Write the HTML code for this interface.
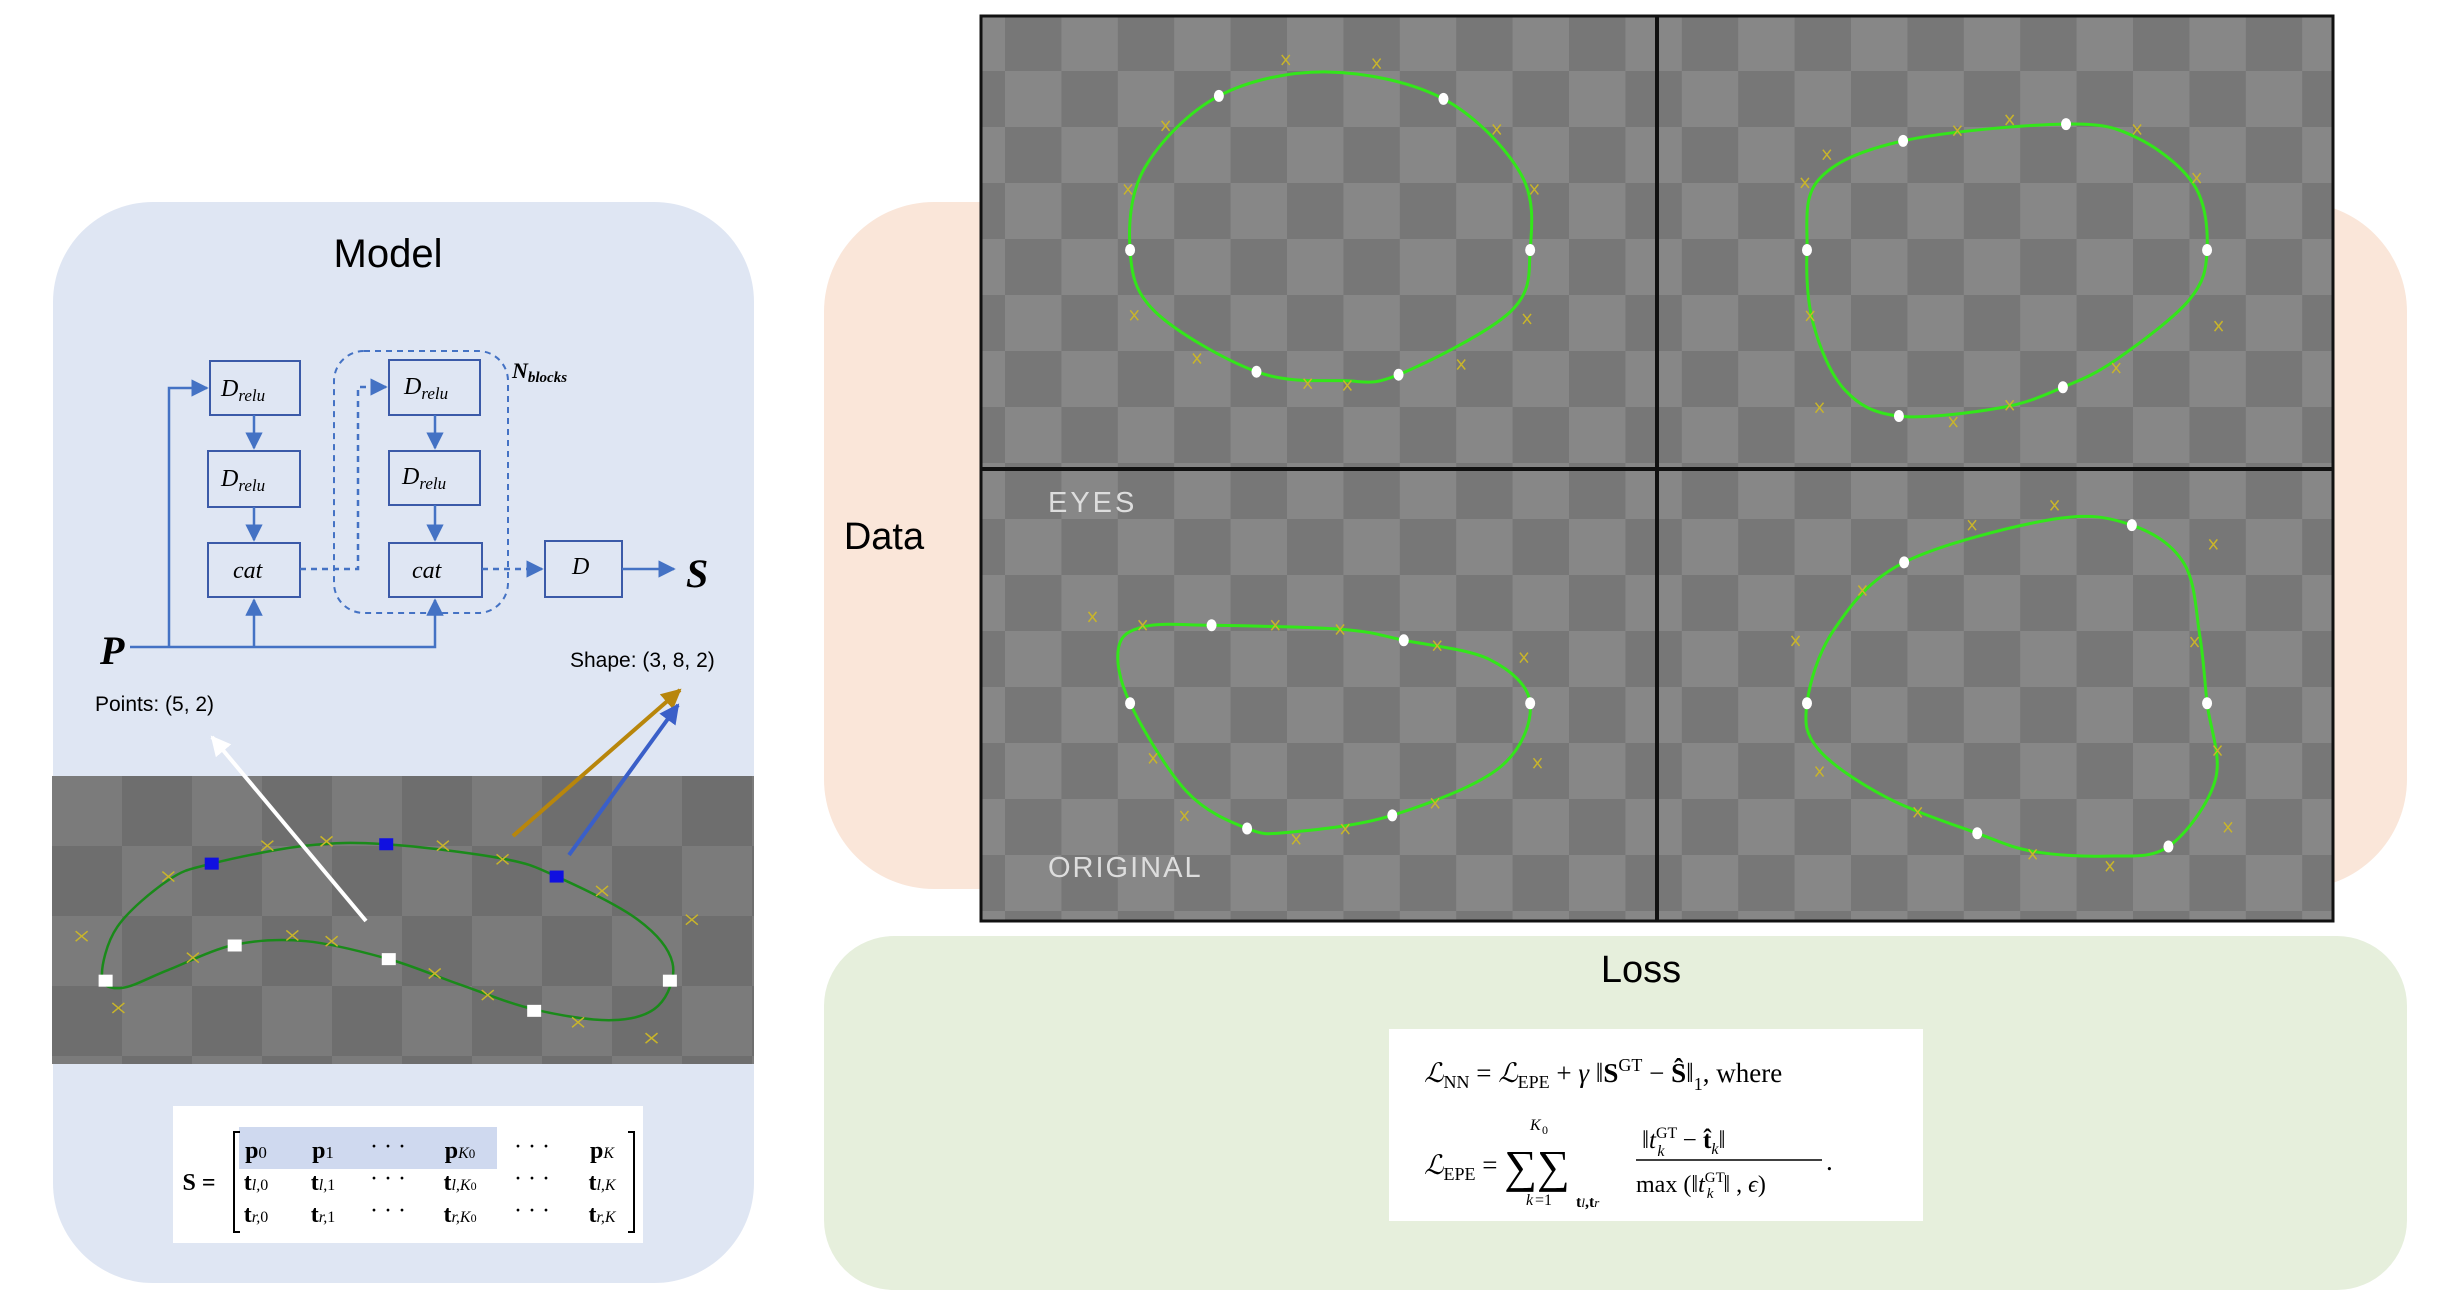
<!DOCTYPE html>
<html><head><meta charset="utf-8"><style>
html,body{margin:0;padding:0;background:#fff;}
svg{display:block;font-family:"Liberation Sans",sans-serif;}
</style></head><body>
<svg id="s" width="2438" height="1306" viewBox="0 0 2438 1306" xmlns="http://www.w3.org/2000/svg">
<defs>
<pattern id="chk" patternUnits="userSpaceOnUse" x="1005" y="71" width="112.8" height="112">
<rect width="112.8" height="112" fill="#777"/>
<rect width="56.4" height="56" fill="#878787"/>
<rect x="56.4" y="56" width="56.4" height="56" fill="#878787"/>
</pattern>
<pattern id="chk2" patternUnits="userSpaceOnUse" x="122" y="846" width="140" height="140">
<rect width="140" height="140" fill="#6e6e6e"/>
<rect width="70" height="70" fill="#7b7b7b"/>
<rect x="70" y="70" width="70" height="70" fill="#7b7b7b"/>
</pattern>
<marker id="ab" viewBox="0 0 10 10" refX="9" refY="5" markerWidth="7" markerHeight="7" orient="auto-start-reverse"><path d="M0,0L10,5L0,10z" fill="#4472c4"/></marker>
<marker id="aw" viewBox="0 0 10 10" refX="9" refY="5" markerWidth="5" markerHeight="5" orient="auto"><path d="M0,0L10,5L0,10z" fill="#fff"/></marker>
<marker id="ag" viewBox="0 0 10 10" refX="9" refY="5" markerWidth="5" markerHeight="5" orient="auto"><path d="M0,0L10,5L0,10z" fill="#b8860b"/></marker>
<marker id="abl" viewBox="0 0 10 10" refX="9" refY="5" markerWidth="5" markerHeight="5" orient="auto"><path d="M0,0L10,5L0,10z" fill="#3a5fc8"/></marker>
</defs>

<rect x="53" y="202" width="701" height="1081" rx="100" fill="#dfe6f3"/>
<rect x="824" y="202" width="1583" height="687" rx="110" fill="#fae6d9"/>
<rect x="824" y="936" width="1583" height="354" rx="70" fill="#e6efdc"/>

<text x="388" y="267" font-size="40" text-anchor="middle" fill="#000">Model</text>
<text x="884" y="549" font-size="38" text-anchor="middle" fill="#000">Data</text>
<text x="1641" y="982" font-size="38" text-anchor="middle" fill="#000">Loss</text>

<rect x="981" y="16" width="1352" height="905" fill="url(#chk)" stroke="#111" stroke-width="3"/>
<line x1="1657" y1="16" x2="1657" y2="921" stroke="#111" stroke-width="4"/>
<line x1="981" y1="469" x2="2333" y2="469" stroke="#111" stroke-width="4"/>
<text x="1048" y="512" font-size="29" fill="#ddd" letter-spacing="3">EYES</text>
<text x="1048" y="877" font-size="29" fill="#ddd" letter-spacing="2">ORIGINAL</text>
<g id="dataMarks"></g>

<rect x="52" y="776" width="702" height="288" fill="url(#chk2)"/>
<g id="modelMarks"></g>

<g stroke="#3b5aa8" stroke-width="2" fill="none">
<rect x="210" y="361" width="90" height="54"/>
<rect x="208" y="451" width="92" height="56"/>
<rect x="208" y="543" width="92" height="54"/>
<rect x="389" y="360" width="91" height="55"/>
<rect x="389" y="451" width="91" height="54"/>
<rect x="389" y="543" width="93" height="54"/>
<rect x="545" y="541" width="77" height="56"/>
<rect x="334" y="351" width="174" height="262" rx="30" stroke="#4472c4" stroke-dasharray="6,5"/>
</g>
<g stroke="#4472c4" stroke-width="2.5" fill="none">
<polyline points="130,647 435,647 435,600" marker-end="url(#ab)"/>
<polyline points="254,647 254,600" marker-end="url(#ab)"/>
<polyline points="169,647 169,388 207,388" marker-end="url(#ab)"/>
<line x1="254" y1="415" x2="254" y2="448" marker-end="url(#ab)"/>
<line x1="254" y1="507" x2="254" y2="540" marker-end="url(#ab)"/>
<line x1="435" y1="415" x2="435" y2="448" marker-end="url(#ab)"/>
<line x1="435" y1="505" x2="435" y2="540" marker-end="url(#ab)"/>
<polyline points="300,569 358,569 358,387 386,387" stroke-dasharray="6,5" marker-end="url(#ab)"/>
<line x1="482" y1="569" x2="542" y2="569" stroke-dasharray="6,5" marker-end="url(#ab)"/>
<line x1="622" y1="569" x2="674" y2="569" marker-end="url(#ab)"/>
</g>
<g font-family="Liberation Serif,serif" font-style="italic" fill="#000">
<text x="221" y="396" font-size="24">D<tspan font-size="17" dy="5">relu</tspan></text>
<text x="221" y="486" font-size="24">D<tspan font-size="17" dy="5">relu</tspan></text>
<text x="233" y="578" font-size="24">cat</text>
<text x="404" y="394" font-size="24">D<tspan font-size="17" dy="5">relu</tspan></text>
<text x="402" y="484" font-size="24">D<tspan font-size="17" dy="5">relu</tspan></text>
<text x="412" y="578" font-size="24">cat</text>
<text x="572" y="574" font-size="24">D</text>
<text x="686" y="587" font-size="40" font-weight="bold">S</text>
<text x="100" y="664" font-size="40" font-weight="bold">P</text>
<text x="512" y="378" font-size="22" font-weight="bold">N<tspan font-size="15" dy="4">blocks</tspan></text>
</g>
<text x="570" y="667" font-size="21" fill="#000">Shape: (3, 8, 2)</text>
<text x="95" y="711" font-size="21" fill="#000">Points: (5, 2)</text>
<line x1="366" y1="921" x2="212" y2="737" stroke="#fff" stroke-width="4" marker-end="url(#aw)"/>
<line x1="513" y1="836" x2="680" y2="690" stroke="#b8860b" stroke-width="4" marker-end="url(#ag)"/>
<line x1="569" y1="855" x2="678" y2="705" stroke="#3a5fc8" stroke-width="4" marker-end="url(#abl)"/>

<rect x="173" y="1106" width="470" height="137" fill="#fff"/>
<rect x="239" y="1127" width="258" height="42" fill="#cfd9ef"/>
<g font-family="Liberation Serif,serif" font-size="24" fill="#000" text-anchor="middle">
<text x="199" y="1190" font-weight="bold">S =</text>
<path d="M240,1132 h-6 v100 h6 M628,1132 h6 v100 h-6" stroke="#000" stroke-width="2" fill="none"/>
<text x="256" y="1158" font-weight="bold">p<tspan font-size="17" font-weight="normal">0</tspan></text>
<text x="323" y="1158" font-weight="bold">p<tspan font-size="17" font-weight="normal">1</tspan></text>
<text x="388" y="1154">· · ·</text>
<text x="460" y="1158" font-weight="bold">p<tspan font-size="16" font-style="italic" font-weight="normal">K</tspan><tspan font-size="13" font-weight="normal">0</tspan></text>
<text x="532" y="1154">· · ·</text>
<text x="602" y="1158" font-weight="bold">p<tspan font-size="16" font-style="italic" font-weight="normal">K</tspan></text>
<text x="256" y="1190" font-weight="bold">t<tspan font-size="16" font-style="italic" font-weight="normal">l,</tspan><tspan font-size="16" font-weight="normal">0</tspan></text>
<text x="323" y="1190" font-weight="bold">t<tspan font-size="16" font-style="italic" font-weight="normal">l,</tspan><tspan font-size="16" font-weight="normal">1</tspan></text>
<text x="388" y="1186">· · ·</text>
<text x="460" y="1190" font-weight="bold">t<tspan font-size="16" font-style="italic" font-weight="normal">l,K</tspan><tspan font-size="12" font-weight="normal">0</tspan></text>
<text x="532" y="1186">· · ·</text>
<text x="602" y="1190" font-weight="bold">t<tspan font-size="16" font-style="italic" font-weight="normal">l,K</tspan></text>
<text x="256" y="1222" font-weight="bold">t<tspan font-size="16" font-style="italic" font-weight="normal">r,</tspan><tspan font-size="16" font-weight="normal">0</tspan></text>
<text x="323" y="1222" font-weight="bold">t<tspan font-size="16" font-style="italic" font-weight="normal">r,</tspan><tspan font-size="16" font-weight="normal">1</tspan></text>
<text x="388" y="1218">· · ·</text>
<text x="460" y="1222" font-weight="bold">t<tspan font-size="16" font-style="italic" font-weight="normal">r,K</tspan><tspan font-size="12" font-weight="normal">0</tspan></text>
<text x="532" y="1218">· · ·</text>
<text x="602" y="1222" font-weight="bold">t<tspan font-size="16" font-style="italic" font-weight="normal">r,K</tspan></text>
</g>

<rect x="1389" y="1029" width="534" height="192" fill="#fff"/>
<g font-family="Liberation Serif,serif" font-size="27" fill="#000">
<text x="1424" y="1082"><tspan font-style="italic">ℒ</tspan><tspan font-size="18" dy="6">NN</tspan><tspan dy="-6"> = </tspan><tspan font-style="italic">ℒ</tspan><tspan font-size="18" dy="6">EPE</tspan><tspan dy="-6"> + </tspan><tspan font-style="italic">γ</tspan> ‖<tspan font-weight="bold">S</tspan><tspan font-size="18" dy="-11">GT</tspan><tspan dy="11"> − </tspan><tspan font-weight="bold">Ŝ</tspan>‖<tspan font-size="18" dy="8">1</tspan><tspan dy="-8">,  where</tspan></text>
<text x="1424" y="1174"><tspan font-style="italic">ℒ</tspan><tspan font-size="18" dy="6">EPE</tspan><tspan dy="-6"> = </tspan><tspan font-size="46" dy="8">∑</tspan><tspan font-size="46">∑</tspan></text>
<text x="1526" y="1205" font-size="16" font-style="italic">k</text><text x="1535" y="1205" font-size="16">=1</text>
<text x="1530" y="1130" font-size="16" font-style="italic">K</text><text x="1542" y="1134" font-size="12">0</text>
<text x="1576" y="1207" font-size="16" font-weight="bold">t<tspan font-style="italic" font-weight="normal" font-size="13">l</tspan>,t<tspan font-style="italic" font-weight="normal" font-size="13">r</tspan></text>
<text x="1642" y="1148" font-size="25">‖<tspan font-style="italic">t</tspan><tspan font-size="16" dy="-10">GT</tspan><tspan font-size="16" font-style="italic" dx="-20" dy="18">k</tspan><tspan dx="12" dy="-8"> − </tspan><tspan font-weight="bold">t̂</tspan><tspan font-size="16" font-style="italic" dy="6">k</tspan><tspan dy="-6">‖</tspan></text>
<line x1="1636" y1="1160" x2="1822" y2="1160" stroke="#000" stroke-width="1.5"/>
<text x="1636" y="1192" font-size="24">max (‖<tspan font-style="italic">t</tspan><tspan font-size="15" dy="-10">GT</tspan><tspan font-size="15" font-style="italic" dx="-18" dy="16">k</tspan><tspan dx="10" dy="-6">‖ , </tspan><tspan font-style="italic">ϵ</tspan>)</text>
<text x="1826" y="1170">.</text>
</g>
</svg>
<script>
const curveTL=[[316,417],[330,280],[401,160],[505,120],[616,165],[690,290],[699,417],[680,520],[573,625],[520,635],[437,620],[340,520]];
const dotsTL=[[316,417],[401,160],[616,165],[699,417],[573,625],[437,620]];
const crossTL=[[465,100],[552,106],[350,210],[667,216],[314,316],[703,316],[320,526],[696,532],[380,598],[633,608],[486,640],[524,643]];
const curveTR=[[964,417],[975,300],[1056,235],[1212,207],[1280,230],[1335,310],[1347,417],[1330,500],[1260,600],[1209,646],[1150,680],[1052,694],[1000,650],[970,540]];
const dotsTR=[[964,417],[1056,235],[1212,207],[1347,417],[1209,646],[1052,694]];
const crossTR=[[983,258],[962,305],[1108,218],[1158,200],[1280,216],[1337,297],[967,527],[1358,544],[1260,614],[1158,676],[1104,704],[976,680]];
const curveBL=[[316,1173],[305,1080],[330,1045],[394,1043],[520,1050],[578,1068],[660,1100],[699,1173],[670,1280],[567,1360],[470,1388],[428,1382],[370,1320]];
const dotsBL=[[316,1173],[394,1043],[578,1068],[699,1173],[567,1360],[428,1382]];
const crossBL=[[280,1029],[328,1043],[455,1043],[517,1050],[610,1077],[693,1097],[338,1265],[706,1273],[368,1361],[608,1340],[475,1400],[522,1383]];
const curveBR=[[964,1173],[990,1050],[1057,938],[1200,866],[1275,876],[1325,940],[1340,1060],[1347,1173],[1355,1300],[1310,1412],[1250,1428],[1180,1420],[1127,1390],[1040,1330],[975,1250]];
const dotsBR=[[964,1173],[1057,938],[1275,876],[1347,1173],[1310,1412],[1127,1390]];
const crossBR=[[1201,843],[1122,876],[1353,908],[1017,985],[953,1069],[1335,1071],[1357,1252],[976,1287],[1070,1355],[1367,1380],[1180,1425],[1254,1445]];
const curveM=[[200,1110],[230,1040],[330,975],[415,952],[600,927],[757,925],[985,945],[1091,970],[1250,1030],[1318,1090],[1290,1150],[1200,1170],[1047,1155],[900,1120],[762,1085],[600,1060],[460,1065],[330,1100],[240,1125]];
const blueM=[[415,952],[757,925],[1091,970]];
const whiteM=[[207,1115],[460,1066],[762,1085],[1047,1157],[1313,1115]];
const crossM=[[160,1053],[232,1153],[330,970],[378,1083],[524,927],[573,1052],[640,921],[650,1060],[852,1105],[868,927],[956,1135],[985,946],[1133,1173],[1180,990],[1277,1195],[1356,1030]];

const NS='http://www.w3.org/2000/svg';
const dx=p=>[800+p[0]*1.0446,p[1]*0.5995];
const mx=p=>[p[0]*0.5102,180+p[1]*0.7181];
function spline(pts){let d='M'+pts[0].join(',');const n=pts.length;
for(let i=0;i<n;i++){const p0=pts[(i-1+n)%n],p1=pts[i],p2=pts[(i+1)%n],p3=pts[(i+2)%n];
d+=` C${p1[0]+(p2[0]-p0[0])/6},${p1[1]+(p2[1]-p0[1])/6} ${p2[0]-(p3[0]-p1[0])/6},${p2[1]-(p3[1]-p1[1])/6} ${p2[0]},${p2[1]}`;}
return d+'Z';}
function mk(tag,attrs,parent){const e=document.createElementNS(NS,tag);for(const k in attrs)e.setAttribute(k,attrs[k]);parent.appendChild(e);return e;}
const dg=document.getElementById('dataMarks');
[[curveTL,dotsTL,crossTL,'tl'],[curveTR,dotsTR,crossTR,'tr'],[curveBL,dotsBL,crossBL,'bl'],[curveBR,dotsBR,crossBR,'br']].forEach(([c,d,x,q])=>{
const p=mk('path',{d:spline(c.map(dx)),fill:'none',stroke:'#33e61a','stroke-width':3},dg);


x.map(dx).forEach(([a,b])=>{const t=mk('path',{d:`M${a-4},${b-5}L${a+4},${b+5}M${a+4},${b-5}L${a-4},${b+5}`,stroke:'#c9b52a','stroke-width':1.5},dg);

});
d.map(dx).forEach(([a,b])=>{const e=mk('ellipse',{cx:a,cy:b,rx:5,ry:6,fill:'#fff'},dg);

});
});
const mg=document.getElementById('modelMarks');
const mp=mk('path',{d:spline(curveM.map(mx)),fill:'none',stroke:'#1a8a1a','stroke-width':2.5},mg);


crossM.map(mx).forEach(([a,b])=>{const t=mk('path',{d:`M${a-6},${b-5}L${a+6},${b+5}M${a+6},${b-5}L${a-6},${b+5}`,stroke:'#c9b52a','stroke-width':1.5},mg);

});
blueM.map(mx).forEach(([a,b])=>{const r=mk('rect',{x:a-7,y:b-6,width:14,height:12,fill:'#1010e0'},mg);

});
whiteM.map(mx).forEach(([a,b])=>{const r=mk('rect',{x:a-7,y:b-6,width:14,height:12,fill:'#fff'},mg);

});
</script>
</body></html>
